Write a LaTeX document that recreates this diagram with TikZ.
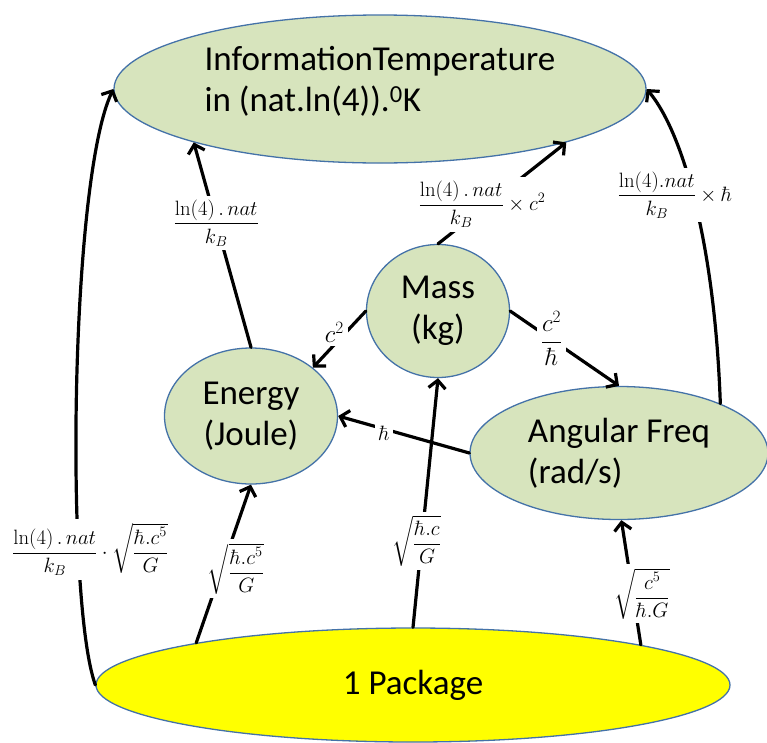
\documentclass[tikz,border=0pt]{standalone}
\usepackage[no-math]{fontspec}
\setmainfont{Carlito}
\usepackage{amsmath}
\usetikzlibrary{shapes.geometric,arrows.meta}
\definecolor{bubfill}{HTML}{D7E4BD}
\definecolor{bord}{HTML}{4472A8}
\definecolor{pkgfill}{HTML}{FFFF00}
\begin{document}
\begin{tikzpicture}[x=1pt,y=-1pt,
  bub/.style={ellipse, draw=bord, line width=1.3pt, fill=bubfill, inner sep=0pt,
    font=\fontsize{35}{41}\selectfont, align=center},
  conn/.style={line width=3.2pt, line cap=round,
    -{Straight Barb[length=8pt,width=17pt]}},
  lab/.style={fill=white, inner sep=4pt, font=\fontsize{20}{24}\selectfont},
  labroot/.style={lab, font=\fontsize{21.5}{25}\selectfont},
  labbig/.style={lab, font=\fontsize{23}{27}\selectfont}]
\useasboundingbox (0,0) rectangle (767,742);

% quantities
\node[bub, minimum width=532pt, minimum height=148pt, align=left] (info) at (380,89)
  {InformationTemperature\\in (nat.ln(4)).\textsuperscript{0}K\rule[-21pt]{0pt}{0pt}};
\node[bub, minimum width=143pt, minimum height=133pt] (mass) at (438,311) {Mass\\(kg)};
\node[bub, minimum width=173pt, minimum height=136pt] (energy) at (251,416) {Energy\\(Joule)};
\node[bub, minimum width=298pt, minimum height=133pt, align=left] (ang) at (619,453)
  {Angular Freq\\(rad/s)};
\node[bub, fill=pkgfill, minimum width=634pt, minimum height=114pt] (pkg) at (413,685)
  {1 Package};

% conversions
\draw[conn] (pkg.west) .. controls (65,600) and (70,180) .. (info.west)
  node[lab, pos=0.28, xshift=12pt, font=\fontsize{21}{25}\selectfont]
  {$\dfrac{\ln(4)\,.\,nat}{k_B}\cdot\sqrt{\dfrac{\hbar.c^5}{G}}$};

\draw[conn] (energy.north) -- node[lab, pos=0.607] {$\dfrac{\ln(4)\,.\,nat}{k_B}$} (info.196);

\draw[conn] (mass.north) -- node[lab, pos=0.39, xshift=-6pt]
  {$\dfrac{\ln(4)\,.\,nat}{k_B}\times c^2$} (info.-16);

\draw[conn] (ang.26) .. controls (715,250) and (685,135) .. (info.east)
  node[lab, pos=0.5, xshift=-21pt, yshift=11pt] {$\dfrac{\ln(4).nat}{k_B}\times\hbar$};

\draw[conn] (mass.west) -- node[labbig, pos=0.5, xshift=-5pt, yshift=7pt] {$c^2$} (energy.38);

\draw[conn] (mass.east) -- node[labbig, pos=0.5, xshift=-13pt, yshift=10pt]
  {$\dfrac{c^2}{\hbar}$} (ang.north);

\draw[conn] (ang.west) -- node[lab, pos=0.65, yshift=-4pt, font=\fontsize{21}{25}\selectfont]
  {$\hbar$} (energy.east);

\draw[conn] (pkg.169.4) -- node[labroot, pos=0.469, xshift=14pt]
  {$\sqrt{\dfrac{\hbar.c^5}{G}}$} (energy.south);

\draw[conn] (pkg.north) -- node[labroot, pos=0.347, xshift=-5pt]
  {$\sqrt{\dfrac{\hbar.c}{G}}$} (mass.south);

\draw[conn] (pkg.10.7) -- node[labroot, pos=0.41, xshift=9pt]
  {$\sqrt{\dfrac{c^5}{\hbar.G}}$} (ang.-88);
\end{tikzpicture}
\end{document}
